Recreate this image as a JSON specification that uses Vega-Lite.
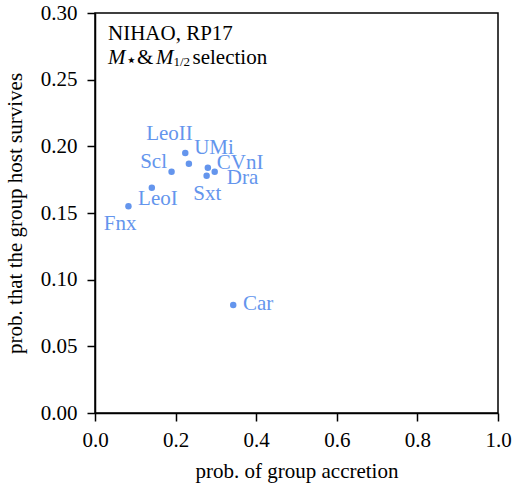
{
  "$schema": "https://vega.github.io/schema/vega-lite/v6.json",
  "width": 403,
  "height": 400,
  "autosize": "none",
  "padding": {"left": 95, "top": 13, "right": 16, "bottom": 74},
  "background": "white",
  "config": {
    "font": "Liberation Serif",
    "view": {"stroke": "black", "strokeWidth": 1.5},
    "axis": {
      "grid": false,
      "domainColor": "black",
      "domainWidth": 1.5,
      "tickColor": "black",
      "tickWidth": 1.5,
      "tickSize": 8,
      "labelFlush": false,
      "labelOverlap": false,
      "labelFont": "Liberation Serif",
      "labelFontSize": 21,
      "labelColor": "black",
      "titleFont": "Liberation Serif",
      "titleFontSize": 21,
      "titleFontWeight": "normal",
      "titleColor": "black"
    },
    "text": {"font": "Liberation Serif", "fontSize": 21}
  },
  "data": {
    "values": [
      {"name": "Fnx", "accretion": 0.083, "survival": 0.155, "label_x": 0.022, "label_y": 0.137},
      {"name": "LeoI", "accretion": 0.141, "survival": 0.169, "label_x": 0.107, "label_y": 0.156},
      {"name": "Scl", "accretion": 0.190, "survival": 0.181, "label_x": 0.112, "label_y": 0.184},
      {"name": "LeoII", "accretion": 0.224, "survival": 0.195, "label_x": 0.127, "label_y": 0.205},
      {"name": "UMi", "accretion": 0.233, "survival": 0.187, "label_x": 0.246, "label_y": 0.194},
      {"name": "CVnI", "accretion": 0.280, "survival": 0.184, "label_x": 0.302, "label_y": 0.183},
      {"name": "Sxt", "accretion": 0.277, "survival": 0.178, "label_x": 0.244, "label_y": 0.160},
      {"name": "Dra", "accretion": 0.297, "survival": 0.181, "label_x": 0.327, "label_y": 0.172},
      {"name": "Car", "accretion": 0.343, "survival": 0.081, "label_x": 0.367, "label_y": 0.077}
    ]
  },
  "layer": [
    {
      "mark": {"type": "point", "filled": true, "size": 42, "opacity": 1, "color": "#6495ED"},
      "encoding": {
        "x": {
          "field": "accretion", "type": "quantitative",
          "scale": {"domain": [0, 1], "nice": false, "zero": false},
          "axis": {"title": "prob. of group accretion", "values": [0, 0.2, 0.4, 0.6, 0.8, 1.0], "format": ".1f", "labelPadding": 8, "titlePadding": 10}
        },
        "y": {
          "field": "survival", "type": "quantitative",
          "scale": {"domain": [0, 0.3], "nice": false, "zero": false},
          "axis": {"title": "prob. that the group host survives", "values": [0, 0.05, 0.1, 0.15, 0.2, 0.25, 0.3], "format": ".2f", "labelPadding": 10, "titlePadding": 15}
        }
      }
    },
    {
      "mark": {"type": "text", "align": "left", "baseline": "alphabetic", "fontSize": 21, "color": "#6495ED"},
      "encoding": {
        "x": {"field": "label_x", "type": "quantitative", "axis": {"title": "prob. of group accretion"}},
        "y": {"field": "label_y", "type": "quantitative", "axis": {"title": "prob. that the group host survives"}},
        "text": {"field": "name"}
      }
    },
    {
      "data": {"values": [{}]},
      "layer": [
        {
          "mark": {"type": "text", "align": "left", "baseline": "alphabetic", "fontSize": 21, "color": "black", "text": "NIHAO, RP17"},
          "encoding": {"x": {"datum": 0.0323, "type": "quantitative"}, "y": {"datum": 0.280, "type": "quantitative"}}
        },
        {
          "mark": {"type": "text", "align": "left", "baseline": "alphabetic", "fontSize": 21, "fontStyle": "italic", "color": "black", "text": "M"},
          "encoding": {"x": {"datum": 0.0323, "type": "quantitative"}, "y": {"datum": 0.262, "type": "quantitative"}}
        },
        {
          "mark": {"type": "text", "align": "left", "baseline": "alphabetic", "fontSize": 18, "font": "DejaVu Sans", "color": "black", "text": "⋆"},
          "encoding": {"x": {"datum": 0.0760, "type": "quantitative"}, "y": {"datum": 0.2605, "type": "quantitative"}}
        },
        {
          "mark": {"type": "text", "align": "left", "baseline": "alphabetic", "fontSize": 21, "color": "black", "text": "&"},
          "encoding": {"x": {"datum": 0.104, "type": "quantitative"}, "y": {"datum": 0.262, "type": "quantitative"}}
        },
        {
          "mark": {"type": "text", "align": "left", "baseline": "alphabetic", "fontSize": 21, "fontStyle": "italic", "color": "black", "text": "M"},
          "encoding": {"x": {"datum": 0.1514, "type": "quantitative"}, "y": {"datum": 0.262, "type": "quantitative"}}
        },
        {
          "mark": {"type": "text", "align": "left", "baseline": "alphabetic", "fontSize": 13, "color": "black", "text": "1/2"},
          "encoding": {"x": {"datum": 0.1945, "type": "quantitative"}, "y": {"datum": 0.2603, "type": "quantitative"}}
        },
        {
          "mark": {"type": "text", "align": "left", "baseline": "alphabetic", "fontSize": 21, "color": "black", "text": "selection"},
          "encoding": {"x": {"datum": 0.2420, "type": "quantitative"}, "y": {"datum": 0.262, "type": "quantitative"}}
        }
      ]
    }
  ]
}
